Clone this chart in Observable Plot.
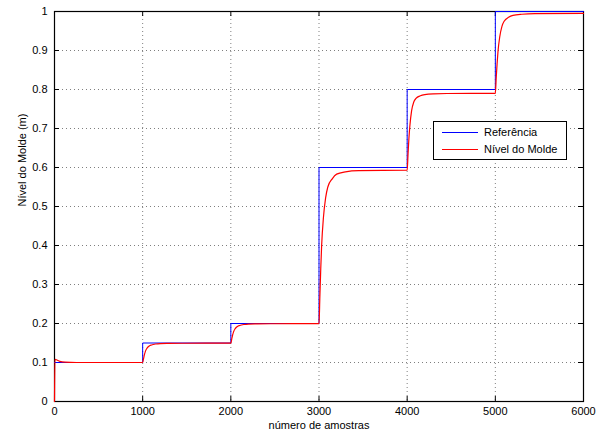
<!DOCTYPE html>
<html>
<head>
<meta charset="utf-8">
<script src="https://cdn.jsdelivr.net/npm/d3@7"></script>
<script src="https://cdn.jsdelivr.net/npm/@observablehq/plot@0.6"></script>
<style>
  html, body { margin: 0; padding: 0; background: #fff; }
  #wrap { position: relative; width: 609px; height: 434px; font-family: "Liberation Sans", Arial, sans-serif; }
  #legend { position: absolute; left: 433px; top: 121px; width: 132px; height: 37px; border: 1px solid #000; background: #fff; font-size: 11px; }
  .row { position: absolute; left: 8px; height: 14px; display: flex; align-items: center; }
  .sw { width: 36px; height: 0; border-top: 1px solid; margin-right: 6px; }
</style>
</head>
<body>
<div id="wrap"></div>
<script>
const xTicks = [0, 1000, 2000, 3000, 4000, 5000, 6000];
const yTicks = [0, 0.1, 0.2, 0.3, 0.4, 0.5, 0.6, 0.7, 0.8, 0.9, 1];
const seriesNames = ["Referência", "Nível do Molde"];
const xLabel = "número de amostras";
const yLabel = "Nível do Molde (m)";

// Reference (setpoint) steps
const refX = [0, 1000, 2000, 3000, 4000, 5000, 6000];
const refY = [0.1, 0.15, 0.2, 0.6, 0.8, 1.0, 1.0];

const measX = [0, 5, 20, 60, 120, 250, 1000,
  1010, 1020, 1030, 1050, 1075, 1100, 1150, 1200, 1300, 1450, 2000,
  2010, 2020, 2030, 2050, 2075, 2100, 2150, 2200, 2300, 2450, 3000,
  3010, 3020, 3030, 3050, 3075, 3100, 3150, 3200, 3300, 3450, 4000,
  4010, 4020, 4030, 4050, 4075, 4100, 4150, 4200, 4300, 4450, 5000,
  5010, 5020, 5030, 5050, 5075, 5100, 5150, 5200, 5300, 5450, 6000];
const measY = [0, 0.108, 0.107, 0.103, 0.101, 0.1, 0.1,
  0.110, 0.120, 0.128, 0.137, 0.1425, 0.145, 0.1475, 0.1485, 0.149, 0.1494, 0.1495,
  0.160, 0.170, 0.178, 0.187, 0.1925, 0.195, 0.1975, 0.1985, 0.199, 0.1994, 0.1995,
  0.27, 0.341, 0.40, 0.471, 0.522, 0.55, 0.571, 0.583, 0.589, 0.592, 0.593,
  0.635, 0.675, 0.705, 0.745, 0.768, 0.777, 0.784, 0.787, 0.789, 0.7898, 0.790,
  0.830, 0.866, 0.897, 0.935, 0.962, 0.975, 0.985, 0.990, 0.993, 0.9945, 0.995];

const ref = refX.map((x, i) => ({x, y: refY[i]}));
const meas = measX.map((x, i) => ({x, y: measY[i]}));

const W = 609, H = 434, mL = 54, mR = 26, mT = 11, mB = 33;
const innerW = W - mL - mR, innerH = H - mT - mB;
const grid = {stroke: "#000", strokeOpacity: 0.5, strokeDasharray: "1,3", strokeWidth: 1};

const chart = Plot.plot({
  width: W, height: H,
  marginLeft: mL, marginRight: mR, marginTop: mT, marginBottom: mB,
  style: {fontFamily: "'Liberation Sans', Arial, sans-serif", fontSize: "11px", color: "#000", background: "#fff"},
  x: {domain: [0, 6000]},
  y: {domain: [0, 1]},
  marks: [
    Plot.ruleX(xTicks.slice(1, -1), grid),
    Plot.ruleY(yTicks.slice(1, -1), grid),
    Plot.tickX(xTicks, {x: d => d, insetTop: innerH - 5, stroke: "#000"}),
    Plot.tickX(xTicks, {x: d => d, insetBottom: innerH - 5, stroke: "#000"}),
    Plot.tickY(yTicks, {y: d => d, insetRight: innerW - 5, stroke: "#000"}),
    Plot.tickY(yTicks, {y: d => d, insetLeft: innerW - 5, stroke: "#000"}),
    Plot.frame({stroke: "#000", strokeWidth: 1.2}),
    Plot.line(ref, {x: "x", y: "y", curve: "step-after", stroke: "#0000ff", strokeWidth: 1}),
    Plot.line(meas, {x: "x", y: "y", curve: "monotone-x", stroke: "#ff0000", strokeWidth: 1.2}),
    Plot.axisX(xTicks, {tickSize: 0, tickPadding: 6, tickFormat: d => String(d), label: null}),
    Plot.axisY(yTicks, {tickSize: 0, tickPadding: 7, tickFormat: d => String(+d.toFixed(1)), label: null}),
    Plot.text([xLabel], {text: d => d, frameAnchor: "bottom", dy: 27, fontSize: 11}),
    Plot.text([yLabel], {text: d => d, frameAnchor: "left", dx: -32, rotate: -90, fontSize: 11})
  ]
});
const wrap = document.getElementById("wrap");
wrap.appendChild(chart);

const legend = document.createElement("div");
legend.id = "legend";
legend.innerHTML =
  `<div class="row" style="top:3px"><div class="sw" style="border-color:#0000ff"></div><span>${seriesNames[0]}</span></div>` +
  `<div class="row" style="top:20px"><div class="sw" style="border-color:#ff0000"></div><span>${seriesNames[1]}</span></div>`;
wrap.appendChild(legend);
</script>
</body>
</html>
